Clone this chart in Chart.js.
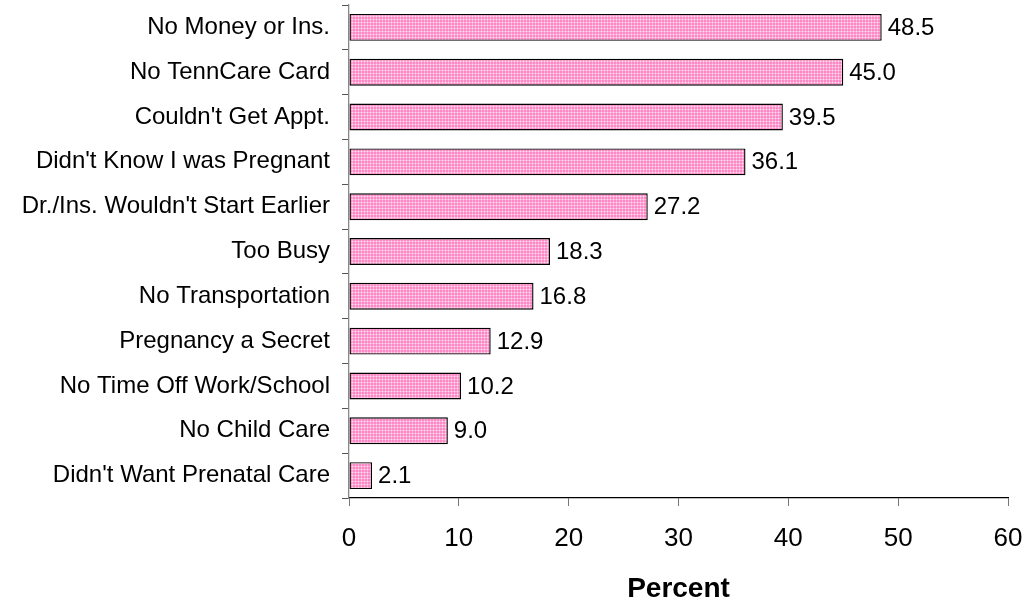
<!DOCTYPE html>
<html lang="en">
<head>
    <meta charset="UTF-8">
    <title>Reasons for late prenatal care</title>
    <script src="https://cdn.jsdelivr.net/npm/chart.js"></script>
    <style>
        html, body { margin: 0; padding: 0; background: #fff; }
        #wrap { width: 1026px; height: 598px; }
    </style>
</head>
<body>
<div id="wrap"><canvas id="reasonsChart" width="1026" height="598"></canvas></div>
<script>
    const reasons = [
        'No Money or Ins.',
        'No TennCare Card',
        "Couldn't Get Appt.",
        "Didn't Know I was Pregnant",
        "Dr./Ins. Wouldn't Start Earlier",
        'Too Busy',
        'No Transportation',
        'Pregnancy a Secret',
        'No Time Off Work/School',
        'No Child Care',
        "Didn't Want Prenatal Care"
    ];
    const percents = [48.5, 45.0, 39.5, 36.1, 27.2, 18.3, 16.8, 12.9, 10.2, 9.0, 2.1];
    const xTicks = [0, 10, 20, 30, 40, 50, 60];

    // dotted pink fill like the original
    function makePattern() {
        const c = document.createElement('canvas');
        c.width = 3; c.height = 3;
        const g = c.getContext('2d');
        g.fillStyle = '#ff88c6';
        g.fillRect(0, 0, 3, 3);
        g.fillStyle = '#ffaed7';
        g.fillRect(1, 0, 1, 3);
        g.fillRect(0, 1, 3, 1);
        g.fillStyle = '#ffe2f1';
        g.fillRect(1, 1, 1, 1);
        return g.createPattern(c, 'repeat');
    }

    const valueLabels = {
        id: 'valueLabels',
        afterDatasetsDraw(chart) {
            const ctx = chart.ctx;
            const meta = chart.getDatasetMeta(0);
            ctx.save();
            ctx.font = '24px "Liberation Sans", Arial, sans-serif';
            ctx.fillStyle = '#000';
            ctx.textAlign = 'left';
            ctx.textBaseline = 'middle';
            meta.data.forEach((bar, i) => {
                ctx.fillText(percents[i].toFixed(1), bar.x + 6, bar.y + 1);
            });
            ctx.restore();
        }
    };

    new Chart(document.getElementById('reasonsChart').getContext('2d'), {
        type: 'bar',
        data: {
            labels: reasons,
            datasets: [{
                data: percents,
                backgroundColor: makePattern(),
                borderColor: '#000',
                borderWidth: 1.4,
                borderSkipped: false,
                barPercentage: 0.6,
                categoryPercentage: 1
            }]
        },
        options: {
            indexAxis: 'y',
            responsive: false,
            animation: false,
            layout: { padding: { top: 5, right: 18, left: 0, bottom: 0 } },
            plugins: {
                legend: { display: false },
                tooltip: { enabled: false }
            },
            scales: {
                x: {
                    min: 0,
                    max: 60,
                    afterBuildTicks: axis => { axis.ticks = xTicks.map(v => ({ value: v })); },
                    afterFit: axis => {
                        axis.height = 100;
                        axis.paddingLeft = 0;
                        axis.paddingRight = 0;
                    },
                    grid: { drawOnChartArea: false, tickLength: 8, color: '#777' },
                    border: { color: '#000', width: 1.3 },
                    ticks: {
                        color: '#000',
                        padding: 17,
                        font: { family: '"Liberation Sans", Arial, sans-serif', size: 26 }
                    },
                    title: {
                        display: true,
                        text: 'Percent',
                        color: '#000',
                        padding: { top: 0, bottom: -4 },
                        font: { family: '"Liberation Sans", Arial, sans-serif', size: 28, weight: 'bold', lineHeight: 0.9 }
                    }
                },
                y: {
                    afterFit: axis => {
                        axis.width = 349;
                        axis.paddingTop = 0;
                        axis.paddingBottom = 0;
                    },
                    grid: { drawOnChartArea: false, offset: true, tickLength: 7, color: '#555' },
                    border: { color: '#888', width: 1.3 },
                    ticks: {
                        color: '#000',
                        padding: 12,
                        font: { family: '"Liberation Sans", Arial, sans-serif', size: 24 }
                    }
                }
            }
        },
        plugins: [valueLabels]
    });
</script>
</body>
</html>
